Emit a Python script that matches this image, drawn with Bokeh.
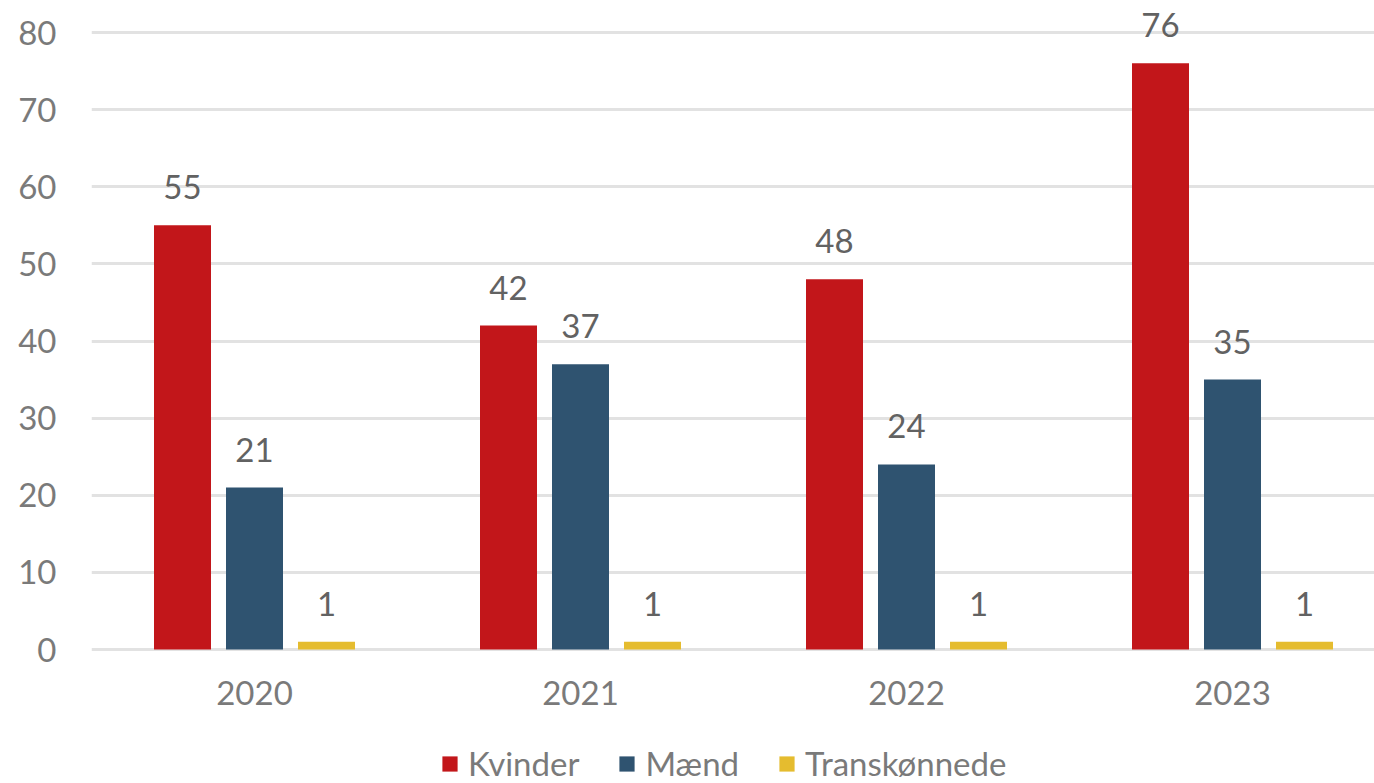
from bokeh.plotting import figure
from bokeh.models import ColumnDataSource, Range1d, FixedTicker, Legend, LegendItem, LinearAxis
from bokeh.transform import dodge
from bokeh.core.properties import value
from bokeh.embed import file_html
from bokeh.resources import INLINE

years = ["2020", "2021", "2022", "2023"]
kvinder = [55, 42, 48, 76]
maend = [21, 37, 24, 35]
trans = [1, 1, 1, 1]
series_names = ["Kvinder", "Mænd", "Transkønnede"]
colors = ["#C2161A", "#2F5370", "#E5BC2F"]
y_ticks = [0, 10, 20, 30, 40, 50, 60, 70, 80]

FONT = "Lato"
FS = "33px"
pos = [i + 0.5 for i in range(len(years))]
src = ColumnDataSource(dict(
    x=pos, k=kvinder, m=maend, t=trans,
    kl=[str(v) for v in kvinder], ml=[str(v) for v in maend], tl=[str(v) for v in trans],
))

W, H = 1374, 783
frame_left = 91
frame_w = W - frame_left
step = 326.0
x_end = frame_w / step
frame_bottom = H
y_zero_px = 649
y_top_px = 32
ppu = (y_zero_px - y_top_px) / 80.0
y_end = 80 + y_top_px / ppu
y_start = -(frame_bottom - y_zero_px) / ppu

p = figure(width=W, height=H, output_backend="svg", toolbar_location=None,
           x_range=Range1d(0, x_end), y_range=Range1d(y_start, y_end),
           x_axis_location=None,
           min_border_left=frame_left, min_border_right=0, min_border_top=0,
           min_border_bottom=0)
p.outline_line_color = None
p.background_fill_color = "white"
p.border_fill_color = "white"

xaxis = LinearAxis(fixed_location=0)
p.add_layout(xaxis, "below")

off = 72 / step
bw = 57 / step
fields = ["k", "m", "t"]
lfields = ["kl", "ml", "tl"]
offsets = [-off, 0, off]
renderers = []
for f, lf, o, c in zip(fields, lfields, offsets, colors):
    r = p.vbar(x=dodge("x", o, range=p.x_range), top=f, width=bw, bottom=0,
               source=src, fill_color=c, line_color=None)
    renderers.append(r)
    p.text(x=dodge("x", o, range=p.x_range), y=f, text=lf, source=src,
           text_align="center", text_baseline="alphabetic", y_offset=-38,
           text_font=value(FONT), text_font_size=FS, text_color="#626262")

# axes
p.yaxis.ticker = FixedTicker(ticks=y_ticks)
p.yaxis.axis_line_color = None
p.yaxis.major_tick_line_color = None
p.yaxis.minor_tick_line_color = None
p.yaxis.major_label_text_font = FONT
p.yaxis.major_label_text_font_size = FS
p.yaxis.major_label_text_color = "#7a7a7a"
p.yaxis.major_label_standoff = 29

xaxis.ticker = FixedTicker(ticks=pos)
xaxis.major_label_overrides = {x: y for x, y in zip(pos, years)}
xaxis.axis_line_color = None
xaxis.major_tick_line_color = None
xaxis.minor_tick_line_color = None
xaxis.major_label_text_font = FONT
xaxis.major_label_text_font_size = FS
xaxis.major_label_text_color = "#7a7a7a"
xaxis.major_label_standoff = 25

p.xgrid.grid_line_color = None
p.ygrid.grid_line_color = "#E2E2E2"
p.ygrid.grid_line_width = 3
p.ygrid.ticker = FixedTicker(ticks=y_ticks)

legend = Legend(items=[LegendItem(label=n, renderers=[r]) for n, r in zip(series_names, renderers)],
                orientation="horizontal", location=(349, 0),
                glyph_width=19, glyph_height=19, label_standoff=9, spacing=38,
                padding=0, margin=0, border_line_color=None, background_fill_alpha=0,
                label_text_font=FONT, label_text_font_size=FS, label_text_color="#7a7a7a")
p.add_layout(legend, "center")

open("out.html", "w").write(file_html(p, INLINE))
